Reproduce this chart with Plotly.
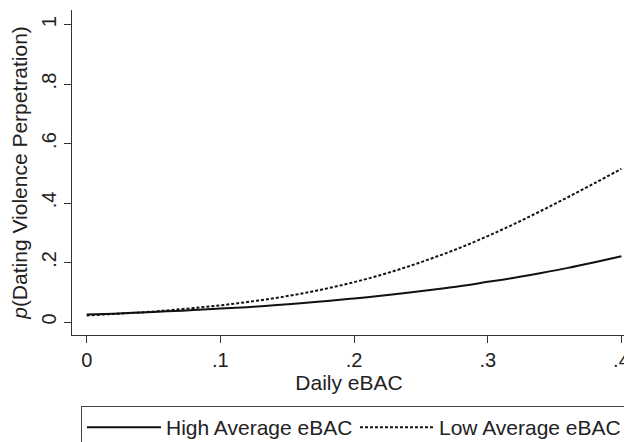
import plotly.graph_objects as go

# Daily eBAC values (x)
daily_ebac = [0.00, 0.02, 0.04, 0.06, 0.08, 0.10, 0.12, 0.14, 0.16, 0.18, 0.20,
              0.22, 0.24, 0.26, 0.28, 0.30, 0.32, 0.34, 0.36, 0.38, 0.40]

# Predicted probability, High Average eBAC (solid)
p_high = [0.025, 0.028, 0.032, 0.036, 0.040, 0.045, 0.050, 0.056, 0.063, 0.071, 0.079,
          0.088, 0.098, 0.109, 0.121, 0.135, 0.149, 0.165, 0.182, 0.201, 0.221]

# Predicted probability, Low Average eBAC (dotted)
p_low = [0.022, 0.027, 0.032, 0.039, 0.047, 0.056, 0.067, 0.080, 0.095, 0.113, 0.134,
         0.158, 0.186, 0.217, 0.251, 0.289, 0.330, 0.374, 0.420, 0.467, 0.515]

x_tickvals = [0, 0.1, 0.2, 0.3, 0.4]
x_ticktext = ["0", ".1", ".2", ".3", ".4"]
y_tickvals = [0, 0.2, 0.4, 0.6, 0.8, 1.0]
y_ticktext = ["0", ".2", ".4", ".6", ".8", "1"]

FONT = "Liberation Sans, Arial, sans-serif"
INK = "#222222"

fig = go.Figure()
fig.add_trace(go.Scatter(x=daily_ebac, y=p_high, mode="lines", name="High Average eBAC",
                         line=dict(color="#111111", width=2, shape="spline")))
fig.add_trace(go.Scatter(x=daily_ebac, y=p_low, mode="lines", name="Low Average eBAC",
                         line=dict(color="#111111", width=2, dash="3px,2px", shape="spline")))

# page body adds an 8px offset, so the figure is sized to the visible area
fig.update_layout(
    width=624, height=434,
    margin=dict(l=64, r=6, t=2, b=107, autoexpand=False),
    paper_bgcolor="white", plot_bgcolor="white",
    font=dict(family=FONT, color=INK, size=20),
    showlegend=True,
    legend=dict(orientation="h", x=0.0162, xanchor="left", y=-0.2185, yanchor="top",
                bordercolor="#444444", borderwidth=1, bgcolor="white",
                font=dict(size=21, family=FONT, color=INK),
                entrywidth=184, entrywidthmode="pixels", itemwidth=74,
                tracegroupgap=0),
    xaxis=dict(range=[-0.011, 0.4034], tickmode="array", tickvals=x_tickvals, ticktext=x_ticktext,
               showline=True, linecolor="#333333", linewidth=1, ticks="outside", ticklen=7,
               tickcolor="#333333", showgrid=False, zeroline=False, automargin=False,
               tickfont=dict(size=20),
               title=dict(text="Daily eBAC", font=dict(size=21), standoff=2)),
    yaxis=dict(range=[-0.0437, 1.049], tickmode="array", tickvals=y_tickvals, ticktext=y_ticktext,
               showline=True, linecolor="#333333", linewidth=1, ticks="outside", ticklen=7,
               tickcolor="#333333", showgrid=False, zeroline=False, automargin=False,
               tickangle=-90, tickfont=dict(size=20),
               title=dict(text="<i>p</i>(Dating Violence Perpetration)", font=dict(size=21), standoff=27)),
)

fig.write_html("out.html")
